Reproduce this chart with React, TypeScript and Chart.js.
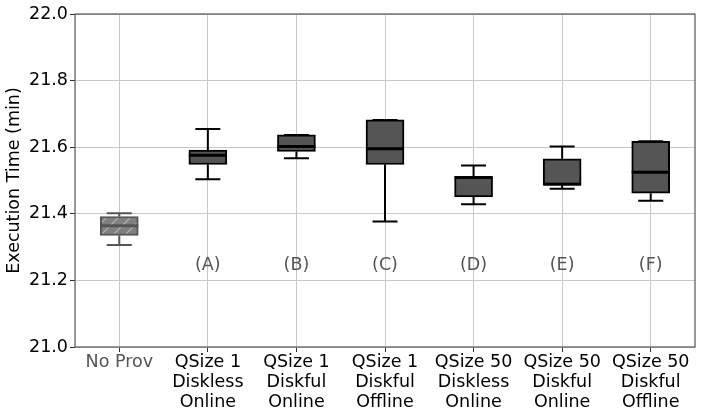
import React, { useEffect, useRef } from "react";
import { Chart, registerables } from "chart.js";

Chart.register(...registerables);

const categories: string[][] = [
  ["No Prov"],
  ["QSize 1", "Diskless", "Online"],
  ["QSize 1", "Diskful", "Online"],
  ["QSize 1", "Diskful", "Offline"],
  ["QSize 50", "Diskless", "Online"],
  ["QSize 50", "Diskful", "Online"],
  ["QSize 50", "Diskful", "Offline"],
];
const whiskerLow = [21.306, 21.504, 21.567, 21.377, 21.429, 21.475, 21.439];
const q1 = [21.335, 21.548, 21.587, 21.548, 21.451, 21.488, 21.462];
const median = [21.364, 21.576, 21.602, 21.595, 21.509, 21.489, 21.525];
const q3 = [21.392, 21.591, 21.637, 21.682, 21.512, 21.565, 21.618];
const whiskerHigh = [21.402, 21.655, 21.637, 21.682, 21.545, 21.602, 21.618];
const letters = ["", "(A)", "(B)", "(C)", "(D)", "(E)", "(F)"];
const letterValue = 21.245;
const yMin = 21.0;
const yMax = 22.0;
const yStep = 0.2;

const FONT = "'DejaVu Sans', sans-serif";

function makeHatch(): CanvasPattern | string {
  const n = 12;
  const c = document.createElement("canvas");
  c.width = n;
  c.height = n;
  const g = c.getContext("2d");
  if (!g) return "#808080";
  g.fillStyle = "#808080";
  g.fillRect(0, 0, n, n);
  g.strokeStyle = "#b4b4b4";
  g.lineWidth = 1.2;
  g.beginPath();
  g.moveTo(-1, n + 1);
  g.lineTo(n + 1, -1);
  g.moveTo(-1, 1);
  g.lineTo(1, -1);
  g.moveTo(n - 1, n + 1);
  g.lineTo(n + 1, n - 1);
  g.stroke();
  const p = g.createPattern(c, "repeat");
  return p || "#808080";
}

const boxPlugin = {
  id: "boxExtras",
  afterDatasetsDraw(chart: any) {
    const ctx = chart.ctx;
    const xs = chart.scales.x;
    const ys = chart.scales.y;
    const meta = chart.getDatasetMeta(0);
    ctx.save();
    for (let i = 0; i < categories.length; i++) {
      const bar = meta.data[i];
      const cx = xs.getPixelForValue(i);
      const half = bar ? bar.width / 2 : 19;
      const col = i === 0 ? "#555555" : "#000000";
      ctx.strokeStyle = col;
      ctx.lineCap = "butt";
      ctx.lineWidth = 2;
      const yl = ys.getPixelForValue(whiskerLow[i]);
      const yq1 = ys.getPixelForValue(q1[i]);
      const yq3 = ys.getPixelForValue(q3[i]);
      const yh = ys.getPixelForValue(whiskerHigh[i]);
      const cap = 12.5;
      ctx.beginPath();
      if (yl - yq1 > 0.5) {
        ctx.moveTo(cx, yq1);
        ctx.lineTo(cx, yl);
      }
      ctx.moveTo(cx - cap, yl);
      ctx.lineTo(cx + cap, yl);
      if (yq3 - yh > 0.5) {
        ctx.moveTo(cx, yq3);
        ctx.lineTo(cx, yh);
      }
      ctx.moveTo(cx - cap, yh);
      ctx.lineTo(cx + cap, yh);
      ctx.stroke();
      // median
      ctx.lineWidth = 3;
      const ym = ys.getPixelForValue(median[i]);
      ctx.beginPath();
      ctx.moveTo(cx - half, ym);
      ctx.lineTo(cx + half, ym);
      ctx.stroke();
      // letters
      if (letters[i]) {
        ctx.fillStyle = "#555555";
        ctx.font = `17.5px ${FONT}`;
        ctx.textAlign = "center";
        ctx.textBaseline = "middle";
        ctx.fillText(letters[i], cx, ys.getPixelForValue(letterValue));
      }
    }
    // frame
    const a = chart.chartArea;
    ctx.strokeStyle = "#555555";
    ctx.lineWidth = 1.2;
    ctx.strokeRect(a.left, a.top, a.right - a.left, a.bottom - a.top);
    ctx.restore();
  },
};

export default function App() {
  const ref = useRef<HTMLCanvasElement | null>(null);
  useEffect(() => {
    document.body.style.margin = "0";
    if (!ref.current) return;
    const hatch = makeHatch();
    const fills = categories.map((_, i) => (i === 0 ? hatch : "#555555"));
    const borders = categories.map((_, i) => (i === 0 ? "#555555" : "#000000"));
    const chart = new Chart(ref.current, {
      type: "bar",
      data: {
        labels: categories,
        datasets: [
          {
            data: categories.map((_, i) => [q1[i], q3[i]]) as any,
            backgroundColor: fills as any,
            borderColor: borders,
            borderWidth: 2,
            borderSkipped: false,
            barThickness: 38,
          },
        ],
      },
      options: {
        animation: false,
        responsive: true,
        maintainAspectRatio: false,
        layout: { padding: { top: 14, right: 11, bottom: 0, left: 0 } },
        plugins: {
          legend: { display: false },
          tooltip: { enabled: false },
        },
        scales: {
          x: {
            grid: {
              offset: false,
              color: "#c8c8c8",
              lineWidth: 1,
              tickLength: 5,
              tickColor: "#333333",
              drawOnChartArea: true,
            },
            border: { display: false },
            ticks: {
              font: { family: FONT, size: 17.5, lineHeight: 1.13 },
              color: (c: any) => (c.index === 0 ? "#555555" : "#000000"),
              padding: 1,
              maxRotation: 0,
              autoSkip: false,
            },
            afterFit: (s: any) => {
              s.height = 72;
            },
          },
          y: {
            min: yMin,
            max: yMax,
            grid: {
              color: "#c8c8c8",
              lineWidth: 1,
              tickLength: 5,
              tickColor: "#333333",
            },
            border: { display: false },
            ticks: {
              stepSize: yStep,
              font: { family: FONT, size: 17.5 },
              color: "#000000",
              padding: 2,
              callback: (v: any) => Number(v).toFixed(1),
            },
            title: {
              display: true,
              text: "Execution Time (min)",
              font: { family: FONT, size: 17.5 },
              color: "#000000",
              padding: { top: 4, bottom: 0 },
            },
            afterFit: (s: any) => {
              s.width = 75;
            },
          },
        },
      },
      plugins: [boxPlugin],
    });
    return () => chart.destroy();
  }, []);
  return (
    <div style={{ width: 706, height: 419, position: "relative" }}>
      <canvas ref={ref} />
    </div>
  );
}
